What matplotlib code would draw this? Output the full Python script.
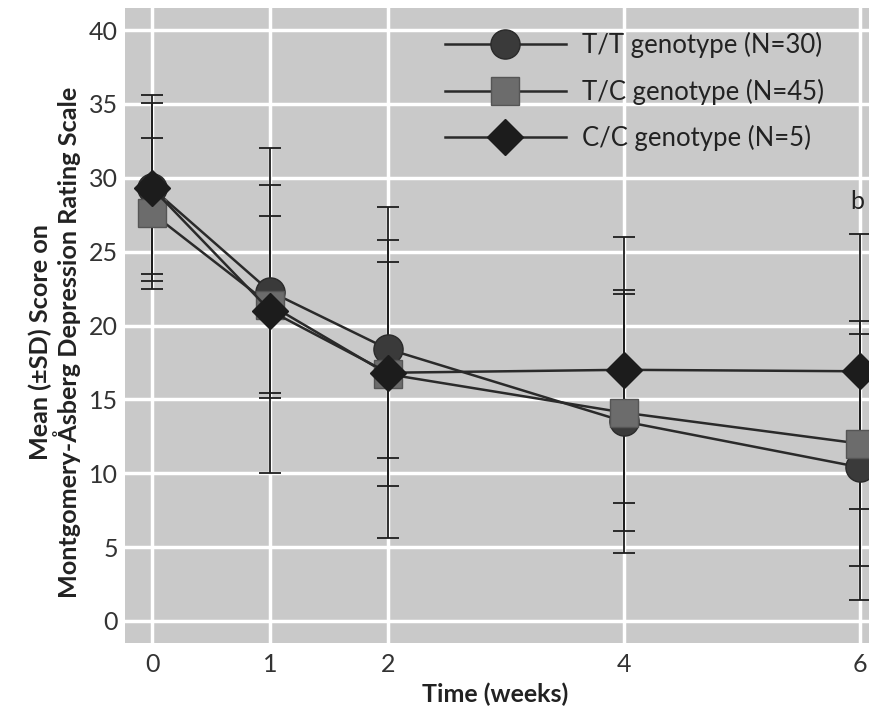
import numpy as np
import matplotlib.pyplot as plt

plt.rcParams['font.family'] = ['Lato', 'DejaVu Sans']

weeks = [0, 1, 2, 4, 6]

tt_mean = [29.3, 22.3, 18.4, 13.5, 10.4]
tt_sd = [6.3, 7.2, 7.4, 8.9, 9.0]

tc_mean = [27.6, 21.4, 16.7, 14.1, 12.0]
tc_sd = [5.1, 6.0, 7.6, 8.0, 8.3]

cc_mean = [29.3, 21.0, 16.8, 17.0, 16.9]
cc_sd = [5.8, 11.0, 11.2, 9.0, 9.3]

labels = ['T/T genotype (N=30)', 'T/C genotype (N=45)', 'C/C genotype (N=5)']

fig = plt.figure(figsize=(8.69, 7.06), dpi=100)
ax = fig.add_axes([125 / 869, 63 / 706, 1 - 125 / 869, 635 / 706])
ax.set_facecolor('#c9c9c9')

# error bars first, markers go on top
for m, s in [(tt_mean, tt_sd), (tc_mean, tc_sd), (cc_mean, cc_sd)]:
    ax.errorbar(weeks, m, yerr=s, fmt='none', ecolor='#1e1e1e',
                elinewidth=1.3, capsize=8, capthick=1.3, zorder=3)

line_kw = dict(color='#2a2a2a', lw=1.8, zorder=4)
ax.plot(weeks, tt_mean, marker='o', ms=21, mfc='#3a3a3a', mec='#2a2a2a',
        label=labels[0], **line_kw)
ax.plot(weeks, tc_mean, marker='s', ms=19.5, mfc='#6c6c6c', mec='#555555',
        label=labels[1], **line_kw)
ax.plot(weeks, cc_mean, marker='D', ms=18, mfc='#1c1c1c', mec='#1c1c1c',
        label=labels[2], **line_kw)

ax.text(5.98, 27.6, 'b', fontsize=18, ha='center', va='bottom', color='#222222')

ax.set_xlim(-0.23, 6.076)
ax.set_ylim(-1.5, 41.5)
ax.set_xticks(weeks)
ax.set_yticks(range(0, 41, 5))
ax.grid(True, color='white', lw=2.5)
ax.set_axisbelow(True)
for sp in ax.spines.values():
    sp.set_visible(False)
ax.tick_params(length=0, labelsize=18, colors='#333333')
ax.tick_params(axis='y', pad=5)
ax.tick_params(axis='x', pad=7)

fig.text(495 / 869, 1 - 702 / 706, 'Time (weeks)', fontsize=18,
         fontweight='bold', color='#222222', ha='center', va='baseline')
fig.text(55 / 869, 1 - 342 / 706,
         'Mean (\u00b1SD) Score on\nMontgomery-\u00c5sberg Depression Rating Scale',
         fontsize=18.2, fontweight='bold', color='#222222', rotation=90,
         ha='center', va='center', multialignment='center', linespacing=1.05)

ax.legend(loc='upper left', bbox_to_anchor=(445 / 869, 1 - 32 / 706),
          bbox_transform=fig.transFigure, frameon=False, fontsize=18.5,
          handlelength=4.7, handletextpad=0.62, labelspacing=0.8,
          borderpad=0, borderaxespad=0, labelcolor='#222222')

fig.savefig('out.png', dpi=100, facecolor='white')
